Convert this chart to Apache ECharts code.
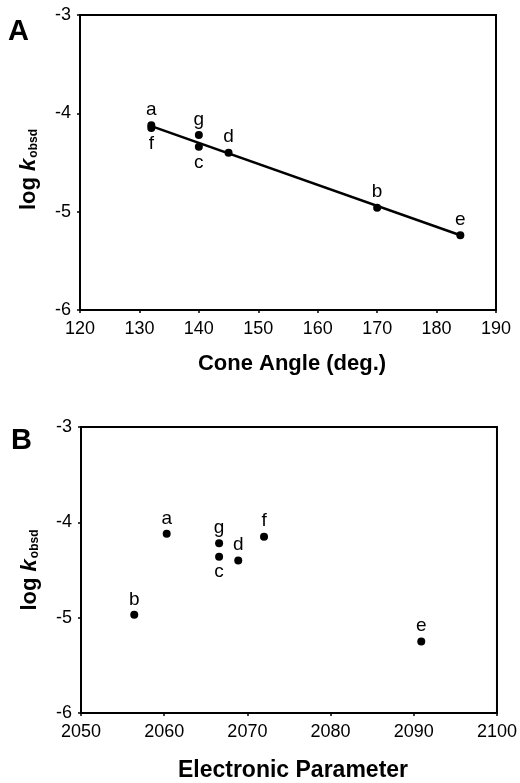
<!DOCTYPE html>
<html>
<head>
<meta charset="utf-8">
<script src="https://cdn.jsdelivr.net/npm/echarts@6/dist/echarts.min.js"></script>
<style>
  html, body { margin: 0; padding: 0; background: #fff; }
  #chart { width: 520px; height: 783px; }
</style>
</head>
<body>
<div id="chart"></div>
<script>
// point labels (ligands a-g)
const labels = ['a', 'b', 'c', 'd', 'e', 'f', 'g'];
// panel A: cone angle vs log k
const coneAngle = [132, 170, 140, 145, 184, 132, 140];
const logkA = [-4.12, -4.96, -4.34, -4.40, -5.24, -4.15, -4.22];
// fitted line in panel A
const fitX = [132, 184];
const fitY = [-4.13, -5.24];
// panel B: electronic parameter vs log k
const elecParam = [2060.3, 2056.4, 2066.6, 2068.9, 2090.9, 2072.0, 2066.6];
const logkB = [-4.12, -4.97, -4.36, -4.40, -5.25, -4.15, -4.22];

const font = 'Liberation Sans, Arial, sans-serif';

var dom = document.getElementById('chart');
var myChart = echarts.init(dom, null, { renderer: 'canvas' });

// which labels sit below their dot
const belowA = ['f', 'c'];
const belowB = ['c'];

function pts(xs, ys, below) {
  return xs.map(function (x, i) {
    return {
      value: [x, ys[i]],
      name: labels[i],
      label: { position: below.indexOf(labels[i]) >= 0 ? 'bottom' : 'top' }
    };
  });
}

function xAxis(idx, min, max, interval, name, gap, size) {
  return {
    type: 'value', gridIndex: idx, min: min, max: max, interval: interval,
    name: name, nameLocation: 'middle', nameGap: gap,
    nameTextStyle: { fontFamily: font, fontWeight: 'bold', fontSize: size, color: '#000', padding: [0, 0, 0, 8] },
    axisLine: { show: true, lineStyle: { color: '#000', width: 2 } },
    axisTick: { show: true, length: 3, lineStyle: { color: '#000', width: 1.5 } },
    axisLabel: { fontFamily: font, fontSize: 18, color: '#000', margin: 10, formatter: function (v) { return String(v); } },
    splitLine: { show: false }
  };
}

function yAxis(idx, shift) {
  return {
    type: 'value', gridIndex: idx, min: -6, max: -3, interval: 1,
    name: '{n|log }{k|k}{s|obsd}', nameLocation: 'middle', nameGap: 40, nameRotate: 90,
    nameTextStyle: {
      padding: [0, shift, 0, 0],
      rich: {
        n: { fontFamily: font, fontWeight: 'bold', fontSize: 22, color: '#000' },
        k: { fontFamily: font, fontWeight: 'bold', fontStyle: 'italic', fontSize: 22, color: '#000' },
        s: { fontFamily: font, fontWeight: 'bold', fontSize: 12, color: '#000', verticalAlign: 'bottom', padding: [10, 0, 0, 1] }
      }
    },
    axisLine: { show: true, lineStyle: { color: '#000', width: 2 } },
    axisTick: { show: true, length: 3, lineStyle: { color: '#000', width: 1.5 } },
    axisLabel: { fontFamily: font, fontSize: 18, color: '#000', margin: 9, padding: [6, 0, 0, 0] },
    splitLine: { show: false }
  };
}

const labelStyle = { show: true, formatter: '{b}', fontFamily: font, fontSize: 19, color: '#000', distance: 2 };

var option = {
  backgroundColor: '#fff',
  animation: false,
  title: [
    { text: 'A', left: 3, top: 12, textStyle: { fontFamily: font, fontWeight: 'bold', fontSize: 29, color: '#000' } },
    { text: 'B', left: 6, top: 421, textStyle: { fontFamily: font, fontWeight: 'bold', fontSize: 29, color: '#000' } }
  ],
  grid: [
    { left: 80, top: 15, width: 416, height: 295, show: true, borderColor: '#000', borderWidth: 2, backgroundColor: 'transparent' },
    { left: 81, top: 427, width: 417, height: 292, show: true, borderColor: '#000', borderWidth: 2, backgroundColor: 'transparent' }
  ],
  xAxis: [
    xAxis(0, 120, 190, 10, 'Cone Angle (deg.)', 43, 22),
    xAxis(1, 2050, 2100, 10, 'Electronic Parameter', 46, 23)
  ],
  yAxis: [yAxis(0, 14), yAxis(1, 0)],
  series: [
    {
      type: 'line', xAxisIndex: 0, yAxisIndex: 0,
      data: fitX.map(function (x, i) { return [x, fitY[i]]; }),
      showSymbol: false, lineStyle: { color: '#000', width: 2.5 }, z: 2
    },
    {
      type: 'scatter', xAxisIndex: 0, yAxisIndex: 0,
      data: pts(coneAngle, logkA, belowA),
      symbolSize: 8, itemStyle: { color: '#000', opacity: 1 }, label: labelStyle, z: 3
    },
    {
      type: 'scatter', xAxisIndex: 1, yAxisIndex: 1,
      data: pts(elecParam, logkB, belowB),
      symbolSize: 8, itemStyle: { color: '#000', opacity: 1 }, label: labelStyle, z: 3
    }
  ]
};

if (option && typeof option === 'object') {
  myChart.setOption(option);
}

window.addEventListener('resize', myChart.resize);
</script>
</body>
</html>
